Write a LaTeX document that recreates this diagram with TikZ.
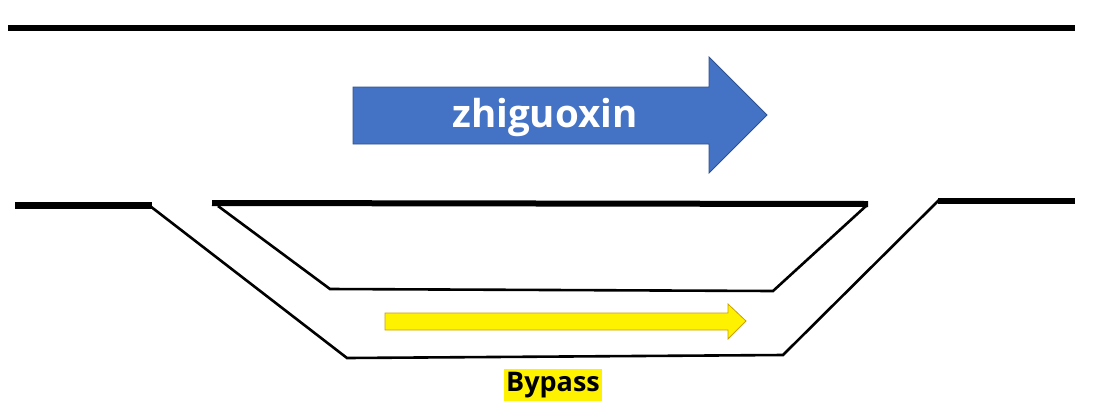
\documentclass[tikz,border=0pt]{standalone}
\usepackage{fontspec}
\setmainfont{Open Sans}
\usepackage{tikz}
\usetikzlibrary{positioning}

\definecolor{flowblue}{HTML}{4472C4}
\definecolor{flowedge}{HTML}{2F528F}
\definecolor{bypassgold}{HTML}{C9A000}

\tikzset{
  road/.style={line width=6pt},
  lane/.style={line width=2.6pt, line join=miter},
  mainflow/.style={fill=flowblue, draw=flowedge, line width=0.8pt},
  sideflow/.style={fill=yellow, draw=bypassgold, line width=0.8pt},
}

\begin{document}
\begin{tikzpicture}[x=1pt, y=-1pt]
			\useasboundingbox (0,0) rectangle (1094,413);
			
			% Top edge of the road
			\draw[road] (8,28) -- (1075,28);
			
			% Main flow arrow
			\draw[mainflow] (353,87) -- (709,87) -- (709,57) -- (767,115) -- (709,173) -- (709,144) -- (353,144) -- cycle;
			\node[text=white, font=\fontsize{38.5}{40}\selectfont\bfseries] (main) at (545,117) {zhiguoxin};
			
			% Lower edge with the outer bypass contour
			\draw[road, line width=7pt] (15,205) -- (152,205);
			\draw[lane] (150,206) -- (347,358) -- (783,355) -- (939,200);
			\draw[road] (938,201) -- (1075,201);
			
			% Island between main road and bypass
			\draw[road] (212,203) -- (868,204);
			\draw[lane] (218,206) -- (330,289) -- (773,291) -- (866,206);
			
			% Bypass arrow
			\draw[sideflow] (385,313) -- (728,313) -- (728,304) -- (746,321) -- (728,339) -- (728,330) -- (385,330) -- cycle;
			\node[fill=yellow, inner xsep=2pt, inner ysep=3pt, font=\fontsize{27}{29}\selectfont\bfseries] (bypass) at (553,385) {Bypass};
\end{tikzpicture}
\end{document}
